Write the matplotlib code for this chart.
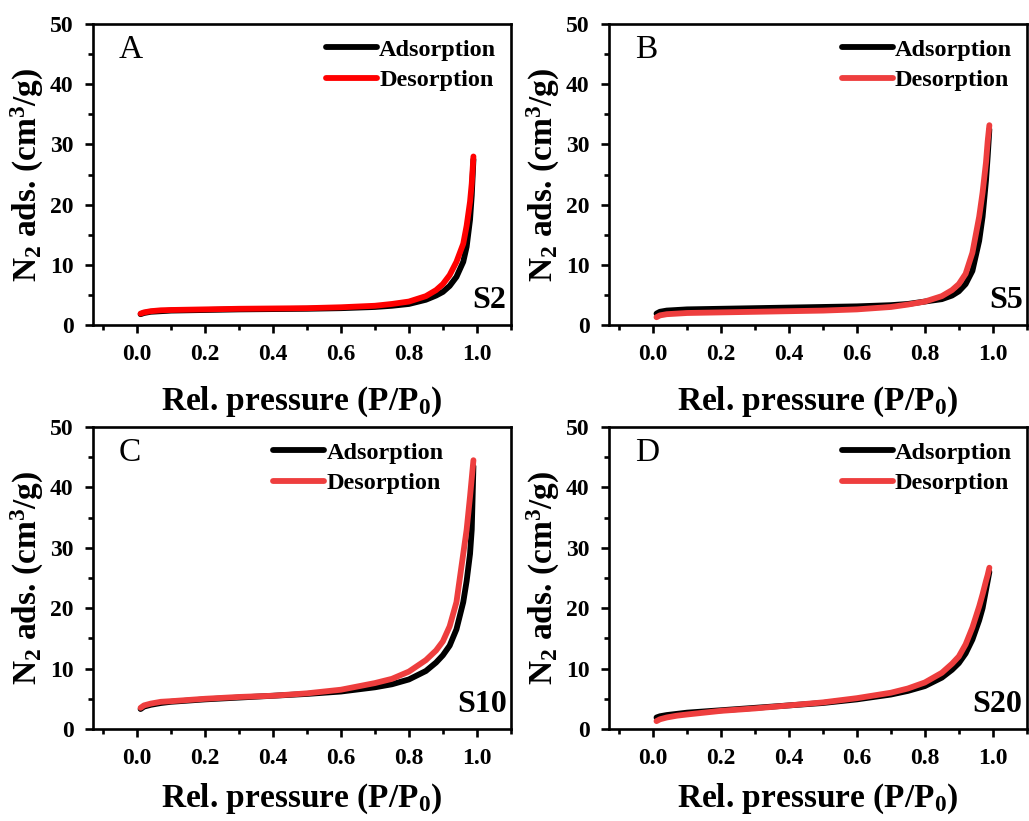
import numpy as np
import matplotlib
matplotlib.use("Agg")
import matplotlib.pyplot as plt
from matplotlib.ticker import MultipleLocator

plt.rcParams['font.family'] = ['Liberation Serif', 'DejaVu Serif']
plt.rcParams['font.weight'] = 'bold'
plt.rcParams['mathtext.fontset'] = 'custom'
plt.rcParams['mathtext.rm'] = 'Liberation Serif:bold'
plt.rcParams['mathtext.bf'] = 'Liberation Serif:bold'
plt.rcParams['mathtext.it'] = 'Liberation Serif:bold:italic'
plt.rcParams['mathtext.default'] = 'rm'

# relative pressure points shared by all isotherms
pressure = [0.01, 0.02, 0.04, 0.07, 0.1, 0.15, 0.2, 0.3, 0.4, 0.5, 0.6, 0.7,
            0.75, 0.8, 0.85, 0.88, 0.9, 0.92, 0.94, 0.96, 0.97, 0.98, 0.985, 0.99]

# S2
s2_ads = [1.8, 2.0, 2.2, 2.3, 2.4, 2.45, 2.5, 2.6, 2.65, 2.7, 2.8, 3.0,
          3.2, 3.5, 4.2, 4.9, 5.5, 6.5, 8.0, 10.5, 13.0, 17.5, 21.5, 27.5]
s2_des = [1.9, 2.1, 2.3, 2.45, 2.5, 2.55, 2.6, 2.7, 2.75, 2.8, 2.95, 3.2,
          3.5, 3.9, 4.8, 5.8, 6.8, 8.3, 10.5, 13.5, 16.5, 20.5, 23.5, 28.0]
# S5
s5_ads = [1.9, 2.2, 2.4, 2.5, 2.6, 2.65, 2.7, 2.8, 2.9, 3.0, 3.1, 3.3,
          3.5, 3.9, 4.3, 4.9, 5.6, 6.8, 9.0, 14.0, 18.0, 24.0, 28.0, 32.5]
s5_des = [1.3, 1.6, 1.8, 1.9, 2.0, 2.05, 2.1, 2.2, 2.3, 2.4, 2.6, 3.0,
          3.4, 3.9, 4.8, 5.8, 6.8, 8.5, 12.0, 18.0, 22.0, 27.0, 30.5, 33.2]
# S10
s10_ads = [3.3, 3.7, 4.0, 4.3, 4.5, 4.7, 4.9, 5.2, 5.5, 5.8, 6.2, 6.9,
           7.4, 8.2, 9.6, 11.0, 12.2, 13.8, 16.5, 21.0, 24.5, 29.0, 33.0, 43.5]
s10_des = [3.5, 3.9, 4.2, 4.5, 4.6, 4.8, 5.0, 5.3, 5.5, 5.9, 6.5, 7.6,
           8.3, 9.5, 11.4, 13.0, 14.5, 17.0, 21.0, 29.0, 33.0, 38.5, 41.5, 44.5]
# S20
s20_ads = [1.9, 2.1, 2.3, 2.5, 2.7, 2.9, 3.1, 3.5, 3.9, 4.3, 4.9, 5.7,
           6.3, 7.1, 8.5, 9.8, 10.9, 12.5, 14.8, 18.0, 20.0, 23.0, 24.5, 26.0]
s20_des = [1.3, 1.6, 1.9, 2.2, 2.4, 2.7, 3.0, 3.4, 3.9, 4.4, 5.1, 6.0,
           6.7, 7.7, 9.3, 10.8, 12.0, 14.0, 16.8, 20.3, 22.3, 24.5, 25.5, 26.7]

panel_letters = ['A', 'B', 'C', 'D']
sample_names = ['S2', 'S5', 'S10', 'S20']
ads_data = [s2_ads, s5_ads, s10_ads, s20_ads]
des_data = [s2_des, s5_des, s10_des, s20_des]
des_colors = ['#ff0000', '#ee3e3e', '#ee3e3e', '#ee3e3e']
legend_x = [1.0, 1.0, 0.875, 1.0]

# axes boxes in figure fractions (left, bottom, width, height)
boxes = [[0.0904, 0.6041, 0.406, 0.3666],
         [0.5918, 0.6041, 0.406, 0.3666],
         [0.0904, 0.1121, 0.406, 0.3678],
         [0.5918, 0.1121, 0.406, 0.3678]]
xlabel_pads = [14, 14, 9, 9]

fig = plt.figure(figsize=(10.29, 8.21), dpi=100)

for ii in range(4):
    ax = fig.add_axes(boxes[ii])
    ax.plot(pressure, ads_data[ii], color='black', lw=4.2,
            solid_capstyle='round', label='Adsorption')
    ax.plot(pressure, des_data[ii], color=des_colors[ii], lw=4.2,
            solid_capstyle='round', label='Desorption')
    ax.set_xlim(-0.13, 1.1)
    ax.set_ylim(0, 50)
    ax.xaxis.set_minor_locator(MultipleLocator(0.1))
    ax.yaxis.set_major_locator(MultipleLocator(10))
    ax.yaxis.set_minor_locator(MultipleLocator(5))
    ax.set_xticks(np.arange(0, 1.01, 0.2))
    ax.set_xticklabels(['0.0', '0.2', '0.4', '0.6', '0.8', '1.0'])
    for sp in ax.spines.values():
        sp.set_linewidth(1.9)
    ax.tick_params(which='major', direction='out', length=6, width=1.9,
                   labelsize=17, pad=8)
    ax.tick_params(which='minor', direction='out', length=3.5, width=1.9)
    ax.set_xlabel('Rel. pressure (P/P$_0$)', fontsize=24, fontweight='bold',
                  labelpad=xlabel_pads[ii])
    ax.set_ylabel('N$_2$ ads. (cm$^3$/g)', fontsize=24, fontweight='bold', labelpad=3)
    ax.text(0.062, 0.915, panel_letters[ii], transform=ax.transAxes,
            fontsize=24, fontweight='normal', ha='left', va='center')
    ax.text(0.99, 0.08, sample_names[ii], transform=ax.transAxes,
            fontsize=23, fontweight='bold', ha='right', va='center')
    ax.legend(loc='upper right', bbox_to_anchor=(legend_x[ii], 1.0),
              frameon=False, fontsize=17.5, handlelength=2.1,
              handletextpad=0.1, labelspacing=0.35, borderaxespad=0.2)

plt.savefig('out.png', dpi=100)
